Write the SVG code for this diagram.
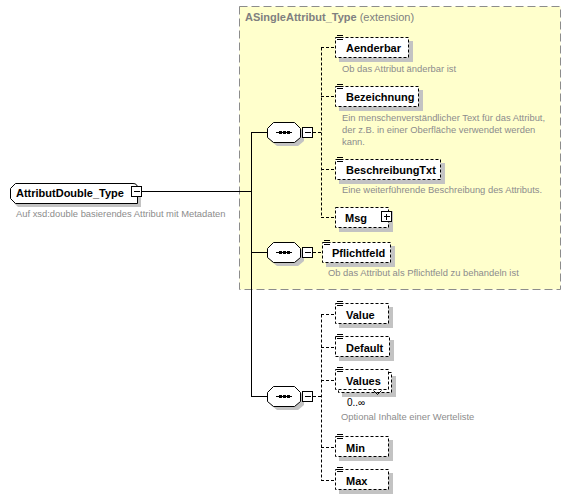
<svg xmlns="http://www.w3.org/2000/svg" width="571" height="498" viewBox="0 0 571 498">
<style>
.bg{fill:#fff}
.ext{fill:#ffffcc;stroke:#8c8c8c;stroke-dasharray:8,4;stroke-width:1}
.sh{fill:#c3c3c3}
.el{fill:#fff;stroke:#000;stroke-dasharray:3,2;stroke-width:1}
.box{fill:#fff;stroke:#000;stroke-width:1}
.name{font-family:"Liberation Sans",Arial,sans-serif;font-size:11px;font-weight:bold;fill:#000}
.desc{font-family:"Liberation Sans",Arial,sans-serif;font-size:9.4px;fill:#8c8c8c}
.title{font-family:"Liberation Sans",Arial,sans-serif;font-size:11px;fill:#808080}
.ln{stroke:#000;stroke-width:1;fill:none}
.dl{stroke:#000;stroke-width:1;fill:none;stroke-dasharray:3,2}
.ic{stroke:#000;stroke-width:1}
</style>
<rect class="bg" x="0" y="0" width="571" height="498"/>
<g id="extension">
<rect class="ext" x="239.5" y="6.5" width="321" height="283"/>
<text class="title" x="245" y="21"><tspan font-weight="bold">ASingleAttribut_Type</tspan> (extension)</text>
</g>
<g id="connectors">
<line class="ln" x1="142" y1="191.5" x2="251.5" y2="191.5"/>
<line class="ln" x1="251.5" y1="132" x2="251.5" y2="396"/>
<line class="ln" x1="251" y1="132.5" x2="267" y2="132.5"/>
<line class="ln" x1="251" y1="252.5" x2="267" y2="252.5"/>
<line class="ln" x1="251" y1="396.5" x2="267" y2="396.5"/>
<line class="dl" x1="313" y1="132.5" x2="321.5" y2="132.5"/>
<line class="dl" x1="321.5" y1="47.5" x2="321.5" y2="217.5"/>
<line class="dl" x1="321" y1="47.5" x2="335" y2="47.5"/>
<line class="dl" x1="321" y1="96.5" x2="335" y2="96.5"/>
<line class="dl" x1="321" y1="169.5" x2="335" y2="169.5"/>
<line class="dl" x1="321" y1="217.5" x2="335" y2="217.5"/>
<line class="dl" x1="313" y1="252.5" x2="322" y2="252.5"/>
<line class="dl" x1="313" y1="396.5" x2="321.5" y2="396.5"/>
<line class="dl" x1="321.5" y1="314.5" x2="321.5" y2="480.5"/>
<line class="dl" x1="321" y1="314.5" x2="335" y2="314.5"/>
<line class="dl" x1="321" y1="347.5" x2="335" y2="347.5"/>
<line class="dl" x1="321" y1="380.5" x2="335" y2="380.5"/>
<line class="dl" x1="321" y1="447.5" x2="335" y2="447.5"/>
<line class="dl" x1="321" y1="480.5" x2="335" y2="480.5"/>
</g>
<g id="root">
<path class="sh" d="M18,187 H141 V207 H18 L14,203 V191 Z"/>
<path class="box" d="M15.5,183.5 H133 Q137.5,183.5 137.5,188 V203.5 H15.5 L10.5,198.5 V188.5 Z"/>
<text class="name" x="16" y="197">AttributDouble_Type</text>
<rect class="box" x="131.5" y="186.5" width="10" height="10"/>
<line class="ic" x1="134" y1="191.5" x2="140" y2="191.5"/>
<text class="desc" x="16" y="217">Auf xsd:double basierendes Attribut mit Metadaten</text>
</g>
<g id="seq1">
<path class="sh" d="M277,126 H298 L304,132 V141 L298,146 H277 L271,141 V132 Z"/>
<path class="box" d="M273.5,122.5 H294.5 L300.5,128.5 V137.5 L294.5,142.5 H273.5 L267.5,137.5 V128.5 Z"/>
<line class="ic" x1="276" y1="132.5" x2="292" y2="132.5"/>
<rect x="279" y="131" width="3" height="3"/><rect x="283" y="131" width="3" height="3"/><rect x="287" y="131" width="3" height="3"/>
<rect class="box" x="302.5" y="127.5" width="10" height="10"/>
<line class="ic" x1="305" y1="132.5" x2="311" y2="132.5"/>
</g>
<g id="seq2">
<path class="sh" d="M277,246 H298 L304,252 V261 L298,266 H277 L271,261 V252 Z"/>
<path class="box" d="M273.5,242.5 H294.5 L300.5,248.5 V257.5 L294.5,262.5 H273.5 L267.5,257.5 V248.5 Z"/>
<line class="ic" x1="276" y1="252.5" x2="292" y2="252.5"/>
<rect x="279" y="251" width="3" height="3"/><rect x="283" y="251" width="3" height="3"/><rect x="287" y="251" width="3" height="3"/>
<rect class="box" x="302.5" y="247.5" width="10" height="10"/>
<line class="ic" x1="305" y1="252.5" x2="311" y2="252.5"/>
</g>
<g id="seq3">
<path class="sh" d="M277,390 H298 L304,396 V405 L298,410 H277 L271,405 V396 Z"/>
<path class="box" d="M273.5,386.5 H294.5 L300.5,392.5 V401.5 L294.5,406.5 H273.5 L267.5,401.5 V392.5 Z"/>
<line class="ic" x1="276" y1="396.5" x2="292" y2="396.5"/>
<rect x="279" y="395" width="3" height="3"/><rect x="283" y="395" width="3" height="3"/><rect x="287" y="395" width="3" height="3"/>
<rect class="box" x="302.5" y="391.5" width="10" height="10"/>
<line class="ic" x1="305" y1="396.5" x2="311" y2="396.5"/>
</g>
<g id="Aenderbar">
<rect class="sh" x="339" y="41" width="74" height="21"/>
<rect class="el" x="335.5" y="37.5" width="73" height="20"/>
<path class="ic" d="M337,35.5 H343 M337,37.5 H343 M337,39.5 H343"/>
<text class="name" x="346" y="52">Aenderbar</text>
<text class="desc" x="342" y="72">Ob das Attribut änderbar ist</text>
</g>
<g id="Bezeichnung">
<rect class="sh" x="339" y="90" width="84" height="21"/>
<rect class="el" x="335.5" y="86.5" width="83" height="20"/>
<path class="ic" d="M337,84.5 H343 M337,86.5 H343 M337,88.5 H343"/>
<text class="name" x="346" y="101">Bezeichnung</text>
<text class="desc" x="342" y="121">Ein menschenverständlicher Text für das Attribut,</text>
<text class="desc" x="342" y="133">der z.B. in einer Oberfläche verwendet werden</text>
<text class="desc" x="342" y="145">kann.</text>
</g>
<g id="BeschreibungTxt">
<rect class="sh" x="339" y="163" width="106" height="21"/>
<rect class="el" x="335.5" y="159.5" width="105" height="20"/>
<path class="ic" d="M337,157.5 H343 M337,159.5 H343 M337,161.5 H343"/>
<text class="name" x="346" y="174">BeschreibungTxt</text>
<text class="desc" x="342" y="193">Eine weiterführende Beschreibung des Attributs.</text>
</g>
<g id="Msg">
<rect class="sh" x="339" y="211" width="54" height="21"/>
<rect class="el" x="335.5" y="207.5" width="53" height="20"/>
<text class="name" x="345" y="222">Msg</text>
<rect class="box" x="381.5" y="211.5" width="10" height="10"/>
<path class="ic" d="M384,216.5 H390 M386.5,214 V220"/>
</g>
<g id="Pflichtfeld">
<rect class="sh" x="326" y="246" width="69" height="21"/>
<rect class="el" x="322.5" y="242.5" width="68" height="20"/>
<path class="ic" d="M324,240.5 H330 M324,242.5 H330 M324,244.5 H330"/>
<text class="name" x="332" y="257">Pflichtfeld</text>
<text class="desc" x="328" y="276">Ob das Attribut als Pflichtfeld zu behandeln ist</text>
</g>
<g id="Value">
<rect class="sh" x="339" y="307" width="54" height="21"/>
<rect class="el" x="335.5" y="303.5" width="53" height="20"/>
<path class="ic" d="M337,301.5 H343 M337,303.5 H343 M337,305.5 H343"/>
<text class="name" x="346" y="319">Value</text>
</g>
<g id="Default">
<rect class="sh" x="339" y="340" width="55" height="21"/>
<rect class="el" x="335.5" y="336.5" width="54" height="20"/>
<path class="ic" d="M337,334.5 H343 M337,336.5 H343 M337,338.5 H343"/>
<text class="name" x="346" y="352">Default</text>
</g>
<g id="Values">
<rect class="sh" x="342" y="376" width="54" height="21"/>
<rect class="el" x="338.5" y="372.5" width="53" height="20"/>
<rect class="el" x="335.5" y="369.5" width="53" height="20"/>
<path class="ic" d="M337,367.5 H343 M337,369.5 H343 M337,371.5 H343"/>
<text class="name" x="346" y="385">Values</text>
<polyline class="ln" points="373.5,390.5 377.5,394.5 381.5,390.5"/>
<text class="name" x="347" y="406" style="font-weight:normal;font-size:10px">0..∞</text>
<text class="desc" x="341" y="420">Optional Inhalte einer Werteliste</text>
</g>
<g id="Min">
<rect class="sh" x="339" y="440" width="54" height="21"/>
<rect class="el" x="335.5" y="436.5" width="53" height="20"/>
<path class="ic" d="M337,434.5 H343 M337,436.5 H343 M337,438.5 H343"/>
<text class="name" x="346" y="452">Min</text>
</g>
<g id="Max">
<rect class="sh" x="339" y="473" width="54" height="21"/>
<rect class="el" x="335.5" y="469.5" width="53" height="20"/>
<path class="ic" d="M337,467.5 H343 M337,469.5 H343 M337,471.5 H343"/>
<text class="name" x="346" y="485">Max</text>
</g>
</svg>
